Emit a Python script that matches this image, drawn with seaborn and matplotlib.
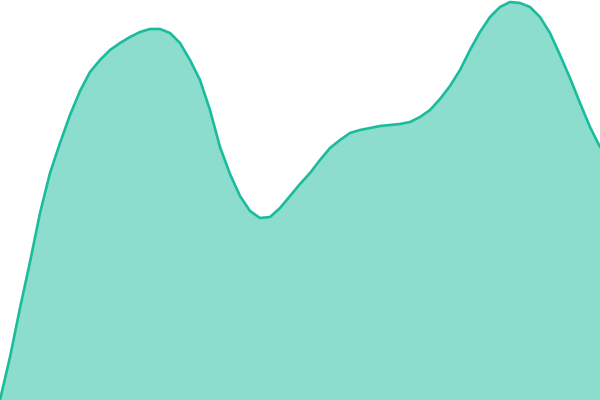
import matplotlib
matplotlib.use("Agg")
import matplotlib.pyplot as plt
import seaborn as sns
import pandas as pd

# values every 10 px (x position, height of the curve)
x_vals = list(range(0, 601, 10))
heights = [0, 43, 92, 138, 187, 227, 257, 285, 309, 328,
           340, 350, 357, 363, 368, 371, 371, 367, 357, 340,
           320, 290, 253, 226, 204, 189, 182, 183, 192, 204,
           216, 227, 240, 252, 260, 267, 270, 272, 274, 275,
           276, 278, 283, 290, 301, 314, 330, 350, 368, 383,
           393, 398, 397, 393, 383, 367, 345, 322, 297, 273,
           253]

line_color = "#1abc9c"

df = pd.DataFrame({"x": x_vals, "value": heights})

sns.set_theme(style="white")
fig = plt.figure(figsize=(6, 4), dpi=100)
ax = fig.add_axes([0, 0, 1, 1])

ax.fill_between(df["x"], df["value"], 0, color=line_color, alpha=0.5, linewidth=0)
sns.lineplot(data=df, x="x", y="value", ax=ax, color=line_color, linewidth=1.9)

ax.set_xlim(0, 600)
ax.set_ylim(0, 400)
ax.set_axis_off()

fig.savefig("out.png", dpi=100)
